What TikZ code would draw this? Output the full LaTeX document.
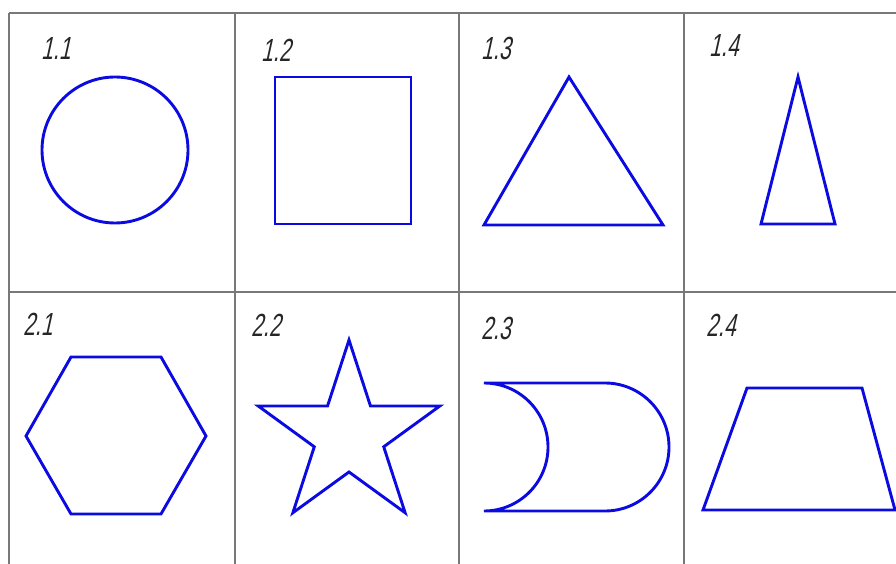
\documentclass[tikz,border=0pt]{standalone}
\usepackage{fontspec}
\setmainfont{Liberation Sans}
\newfontfamily\labfont[FakeStretch=0.66,FakeSlant=0.22]{Liberation Sans}
\definecolor{shapeblue}{RGB}{10,10,225}
\definecolor{gridgray}{RGB}{120,120,120}
\begin{document}
\begin{tikzpicture}[x=1pt,y=-1pt,
  gridline/.style={draw=gridgray,line width=1.1pt},
  figline/.style={draw=shapeblue,line width=2.9pt,line join=miter},
  lab/.style={anchor=base west,inner sep=0pt,font=\labfont\fontsize{32}{32}\selectfont,text=black!85}]
\useasboundingbox (0,0) rectangle (896,564);
% grid
\draw[gridline] (9,13) -- (896,13);
\draw[gridline] (9,292) -- (896,292);
\foreach \x in {9,235,459,684} \draw[gridline] (\x,13) -- (\x,564);
% labels
\node[lab] (l11) at (41,60) {1.1};
\node[lab] (l12) at (261,62) {1.2};
\node[lab] (l13) at (481,60) {1.3};
\node[lab] (l14) at (709,57) {1.4};
\node[lab] (l21) at (23,335) {2.1};
\node[lab] (l22) at (251,336) {2.2};
\node[lab] (l23) at (481,339) {2.3};
\node[lab] (l24) at (706,336) {2.4};
% 1.1 circle
\draw[figline] (115,150) circle[radius=73];
% 1.2 square
\draw[figline] (275,77) rectangle (411,224);
% 1.3 triangle
\draw[figline] (569,77) -- (663,225) -- (484,225) -- cycle;
% 1.4 narrow triangle
\draw[figline] (798,77) -- (835,224) -- (761,224) -- cycle;
% 2.1 hexagon
\draw[figline] (26,436) -- (71,357) -- (161,357) -- (206,436) -- (161,514) -- (71,514) -- cycle;
% 2.2 star
\draw[figline] (349,340)
  \foreach \i in {1,...,9} {
    -- ({349+(mod(\i,2)==0 ? 95.5 : 36.5)*cos(90+36*\i)}, {435.5-(mod(\i,2)==0 ? 95.5 : 36.5)*sin(90+36*\i)})
  } -- cycle;
% 2.3 shape
\draw[figline] (484,383) -- (605,383) arc[start angle=-90,end angle=90,radius=64]
  -- (484,511) arc[start angle=90,end angle=-90,radius=64] -- cycle;
% 2.4 trapezoid
\draw[figline] (747,388) -- (862,388) -- (895,510) -- (703,510) -- cycle;
\end{tikzpicture}
\end{document}
